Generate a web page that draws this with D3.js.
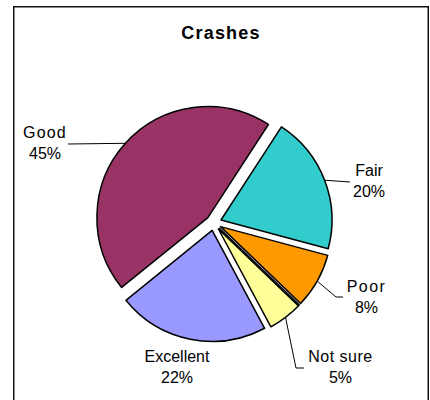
<!DOCTYPE html>
<html>
<head>
<meta charset="utf-8">
<script src="https://cdn.jsdelivr.net/npm/d3@7"></script>
<style>
  html, body { margin: 0; padding: 0; background: #fff; }
  svg { display: block; font-family: "Liberation Sans", Arial, sans-serif; }
</style>
</head>
<body>
<svg id="chart" width="430" height="400"></svg>
<script>
// ---- data (clockwise order, starting at the Fair slice) ----
const title = "Crashes";
const categories = ["Fair", "Poor", "No answer", "Not sure", "Excellent", "Good"];
const values = [20, 8, 0, 5, 22, 45];
const colors = ["#33CCCC", "#FF9900", "#808080", "#FFFF99", "#9999FF", "#993366"];

// ---- layout / style ----
const W = 430, H = 400;
const cx = 213.7, cy = 222.8, R = 111, explode = 7.8;
const startDeg = 33;
// label anchors (center x, first-line baseline) and leader ends
const labelLayout = {
  "Good":      { x: 45,    y: 138, ls: 1.2, leader: [[68, 144]] },
  "Fair":      { x: 369,   y: 176, ls: 0,   leader: [[350, 182]] },
  "Poor":      { x: 366.5, y: 292, ls: 1.4, leader: [[336, 297], [343, 297]] },
  "Not sure":  { x: 340.5, y: 362, ls: 0.5, leader: [[296, 368], [304, 368]] },
  "Excellent": { x: 177,   y: 362, ls: 0,   leader: null }
};

const svg = d3.select("#chart");

// frame
svg.append("rect")
  .attr("x", 13.75).attr("y", 6.75)
  .attr("width", 414.5).attr("height", 420)
  .attr("fill", "#fff").attr("stroke", "#111").attr("stroke-width", 1.5);

// title
svg.append("text")
  .attr("x", 221).attr("y", 39)
  .attr("text-anchor", "middle")
  .attr("font-size", 18).attr("font-weight", "bold")
  .attr("letter-spacing", 1.2)
  .text(title);

const data = categories.map((c, i) => ({ cat: c, value: values[i], color: colors[i] }));
const total = d3.sum(values);

const a0 = startDeg * Math.PI / 180;
const pie = d3.pie().sort(null).value(d => d.value).startAngle(a0).endAngle(a0 + 2 * Math.PI);
const arcs = pie(data);
const arc = d3.arc().innerRadius(0).outerRadius(R);

const g = svg.append("g").attr("transform", `translate(${cx},${cy})`);

arcs.forEach(a => {
  const mid = (a.startAngle + a.endAngle) / 2;
  a.ox = explode * Math.sin(mid);
  a.oy = -explode * Math.cos(mid);
  a.mid = mid;
});

g.selectAll("path.slice")
  .data(arcs)
  .join("path")
  .attr("class", "slice")
  .attr("transform", d => `translate(${d.ox},${d.oy})`)
  .attr("d", arc)
  .attr("fill", d => d.data.color)
  .attr("stroke", "#000")
  .attr("stroke-width", 1.5)
  .attr("stroke-linejoin", "round");

// leader lines and labels
arcs.forEach(a => {
  const lay = labelLayout[a.data.cat];
  if (!lay || a.data.value <= 0) return;
  if (lay.leader) {
    const px = cx + a.ox + R * Math.sin(a.mid);
    const py = cy + a.oy - R * Math.cos(a.mid);
    const pts = [[px, py]].concat(lay.leader);
    svg.append("path")
      .attr("d", d3.line()(pts))
      .attr("fill", "none")
      .attr("stroke", "#000")
      .attr("stroke-width", 1);
  }
  const pct = Math.round(a.data.value / total * 100) + "%";
  const t = svg.append("text")
    .attr("text-anchor", "middle")
    .attr("font-size", 16)
    .attr("fill", "#000");
  t.append("tspan").attr("x", lay.x).attr("y", lay.y)
    .attr("letter-spacing", lay.ls).text(a.data.cat);
  t.append("tspan").attr("x", lay.x).attr("y", lay.y + 21).text(pct);
});
</script>
</body>
</html>
